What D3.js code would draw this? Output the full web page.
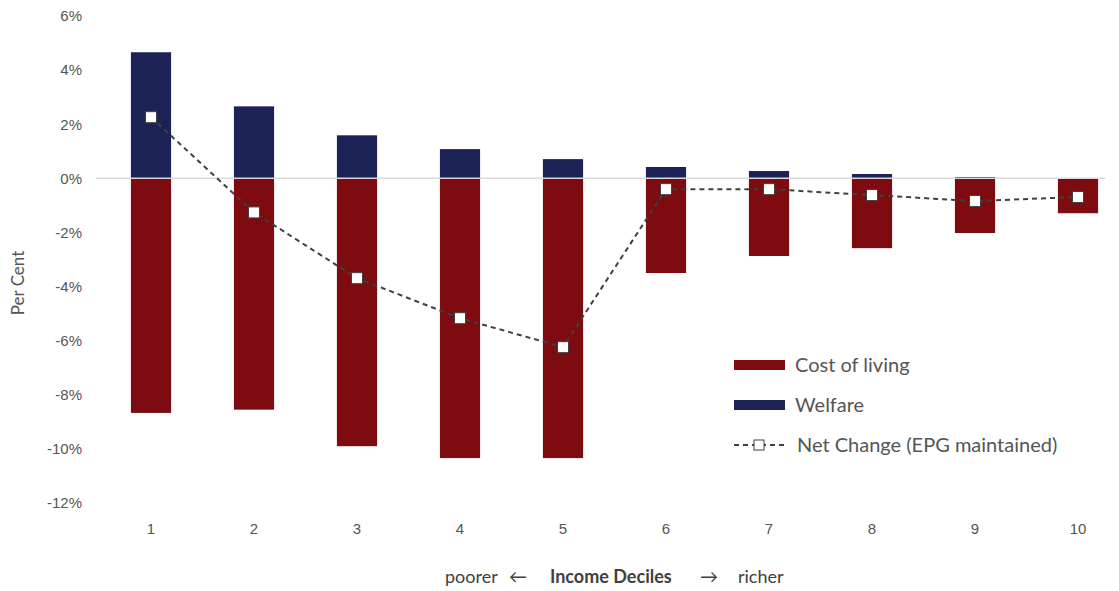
<!DOCTYPE html>
<html>
<head>
<meta charset="utf-8">
<script src="https://cdn.jsdelivr.net/npm/d3@7"></script>
<style>
  body { margin: 0; background: #fff; }
  svg { font-family: Lato, "Open Sans", sans-serif; }
  .tick-label { fill: #555; font-size: 15px; }
  .legend-text { fill: #555; font-size: 20px; }
</style>
</head>
<body>
<svg width="1119" height="591"></svg>
<script>
const deciles = ['1', '2', '3', '4', '5', '6', '7', '8', '9', '10'];
const costOfLiving = [-8.67, -8.55, -9.9, -10.34, -10.34, -3.5, -2.87, -2.58, -2.02, -1.29];
const welfare = [4.66, 2.66, 1.59, 1.08, 0.71, 0.42, 0.27, 0.16, 0.05, 0.0];
const netChange = [2.26, -1.26, -3.69, -5.17, -6.24, -0.4, -0.4, -0.62, -0.84, -0.69];
const yTicks = [6, 4, 2, 0, -2, -4, -6, -8, -10, -12];

const red = '#7d0b10';
const navy = '#1d2256';

const svg = d3.select('svg');

const xScale = d3.scaleBand()
    .domain(deciles)
    .range([99.5, 1129.5])
    .paddingInner(0.61)
    .paddingOuter(0.305);

const yScale = d3.scaleLinear()
    .domain([-12, 6])
    .range([503, 16]);

// y tick labels
const yAxis = d3.axisLeft(yScale)
    .tickValues(yTicks)
    .tickSize(0)
    .tickPadding(0)
    .tickFormat(d => d + '%');
const yAxisG = svg.append('g')
    .attr('transform', 'translate(82,0)')
    .call(yAxis);
yAxisG.select('.domain').remove();
yAxisG.selectAll('text').attr('class', 'tick-label').attr('font-family', null).attr('font-size', null);

svg.append('text')
    .attr('transform', `translate(24,${283}) rotate(-90)`)
    .attr('text-anchor', 'middle')
    .attr('fill', '#555')
    .style('font-size', '17px')
    .text('Per Cent');

// x tick labels
const xAxis = d3.axisBottom(xScale).tickSize(0).tickPadding(0);
const xAxisG = svg.append('g')
    .attr('transform', 'translate(0,523)')
    .call(xAxis);
xAxisG.select('.domain').remove();
xAxisG.selectAll('text').attr('class', 'tick-label').attr('font-family', null).attr('font-size', null);

// bars
const bars = svg.append('g');
bars.selectAll('.cost')
    .data(deciles)
    .join('rect')
    .attr('class', 'cost')
    .attr('x', d => xScale(d))
    .attr('width', xScale.bandwidth())
    .attr('y', yScale(0))
    .attr('height', (d, i) => yScale(costOfLiving[i]) - yScale(0))
    .attr('fill', red);

bars.selectAll('.welfare')
    .data(deciles)
    .join('rect')
    .attr('class', 'welfare')
    .attr('x', d => xScale(d))
    .attr('width', xScale.bandwidth())
    .attr('y', (d, i) => yScale(welfare[i]))
    .attr('height', (d, i) => yScale(0) - yScale(welfare[i]))
    .attr('fill', navy);

// zero line
svg.append('line')
    .attr('x1', 96).attr('x2', 1105)
    .attr('y1', yScale(0)).attr('y2', yScale(0))
    .attr('stroke', '#d9d9d9')
    .attr('stroke-width', 1.5);

// net change line
const cx = d => xScale(d) + xScale.bandwidth() / 2;
const line = d3.line()
    .x((d, i) => cx(deciles[i]))
    .y(d => yScale(d));

svg.append('path')
    .attr('d', line(netChange))
    .attr('fill', 'none')
    .attr('stroke', '#404040')
    .attr('stroke-width', 2)
    .attr('stroke-dasharray', '5,4');

svg.selectAll('.net')
    .data(netChange)
    .join('rect')
    .attr('class', 'net')
    .attr('x', (d, i) => cx(deciles[i]) - 5.5)
    .attr('y', d => yScale(d) - 5.5)
    .attr('width', 11)
    .attr('height', 11)
    .attr('fill', '#fff')
    .attr('stroke', '#404040')
    .attr('stroke-width', 1);

// legend
const legend = svg.append('g').attr('transform', 'translate(734,0)');
legend.append('rect').attr('x', 0).attr('y', 360).attr('width', 51).attr('height', 10).attr('fill', red);
legend.append('text').attr('class', 'legend-text').attr('x', 61).attr('y', 372).text('Cost of living');
legend.append('rect').attr('x', 0).attr('y', 400).attr('width', 51).attr('height', 10).attr('fill', navy);
legend.append('text').attr('class', 'legend-text').attr('x', 61).attr('y', 412).text('Welfare');
legend.append('line').attr('x1', 0).attr('x2', 51).attr('y1', 445).attr('y2', 445)
    .attr('stroke', '#404040').attr('stroke-width', 2).attr('stroke-dasharray', '5,4');
legend.append('rect').attr('x', 20).attr('y', 440).attr('width', 10).attr('height', 10)
    .attr('fill', '#fff').attr('stroke', '#404040').attr('stroke-width', 1);
legend.append('text').attr('class', 'legend-text').attr('x', 63).attr('y', 452).text('Net Change (EPG maintained)');

// x axis title
const title = svg.append('text')
    .attr('y', 583)
    .attr('fill', '#404040')
    .style('font-size', '18px');
title.append('tspan').attr('x', 445).text('poorer');
title.append('tspan').attr('x', 509).text('\u2190');
title.append('tspan').attr('x', 550).attr('font-weight', 'bold').text('Income Deciles');
title.append('tspan').attr('x', 700).text('\u2192');
title.append('tspan').attr('x', 738).text('richer');
</script>
</body>
</html>
